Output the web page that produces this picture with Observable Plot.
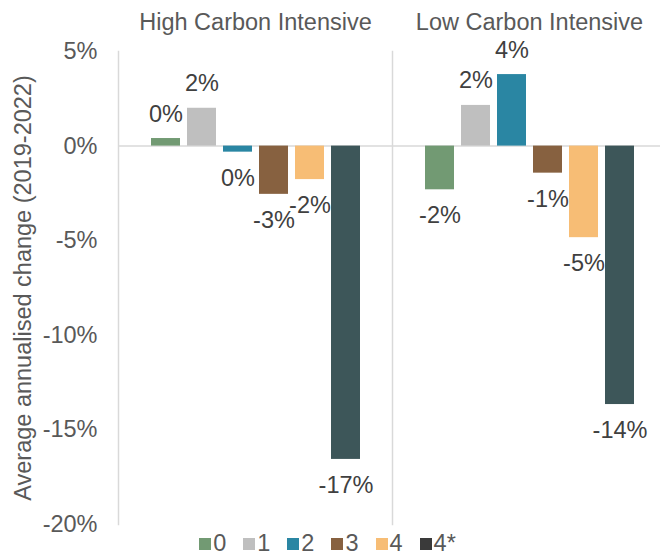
<!DOCTYPE html>
<html>
<head>
<meta charset="utf-8">
<script src="https://cdn.jsdelivr.net/npm/d3@7"></script>
<script src="https://cdn.jsdelivr.net/npm/@observablehq/plot@0.6"></script>
<style>
  html, body { margin: 0; padding: 0; background: #ffffff; overflow: hidden; }
  #chart { width: 660px; font-family: "Liberation Sans", Arial, sans-serif; }
  #chart svg { display: block; }
  .legend { position: relative; display: flex; justify-content: center; align-items: center; gap: 17px;
            height: 27px; margin-top: -8px; padding-right: 5px; font-size: 23.5px; color: #595959; line-height: 27px; }
  .legend .item { display: flex; align-items: center; }
  .legend .sw { width: 12px; height: 12px; margin-right: 2px; }
</style>
</head>
<body>
<div id="chart"></div>
<script>
// Sector groups, intensity bands and their average annualised change (%)
const categories = ["High Carbon Intensive", "Low Carbon Intensive"];
const series = ["0", "1", "2", "3", "4", "4*"];
const highCarbon = [0.4, 2.0, -0.32, -2.55, -1.77, -16.56];
const lowCarbon = [-2.31, 2.15, 3.78, -1.43, -4.84, -13.66];
const barColors = ["#729a73", "#bfbfbf", "#2a86a3", "#876140", "#f7bd75", "#3d5659"];
const legendColors = ["#729a73", "#bfbfbf", "#2a86a3", "#876140", "#f7bd75", "#3a3a3a"];
const yTicks = [5, 0, -5, -10, -15, -20];
const yLabel = "Average annualised change (2019-2022)";

const groups = [highCarbon, lowCarbon];
const rows = categories.flatMap((category, i) =>
  series.map((s, j) => ({category, series: s, value: groups[i][j]}))
);

const pct = (v) => `${Math.round(v)}%`;

const chart = Plot.plot({
  width: 660,
  height: 538,
  marginTop: 51,
  marginBottom: 14,
  marginLeft: 118,
  marginRight: -6,
  style: {
    fontFamily: '"Liberation Sans", Arial, sans-serif',
    fontSize: "23.5px",
    color: "#595959",
    background: "#ffffff"
  },
  fx: {domain: categories, padding: 0},
  x: {domain: series, paddingInner: 0.2, paddingOuter: 0.864, axis: null},
  y: {domain: [-20, 5]},
  color: {domain: series, range: barColors},
  marks: [
    Plot.frame({anchor: "left", stroke: "#d9d9d9", strokeWidth: 1.5}),
    Plot.ruleY([0], {stroke: "#d9d9d9", strokeWidth: 1.5}),
    Plot.barY(rows, {fx: "category", x: "series", y: "value", fill: "series"}),
    Plot.text(rows.filter((d) => d.value >= 0), {
      fx: "category", x: "series", y: "value", text: (d) => pct(d.value),
      lineAnchor: "bottom", dy: -17, fill: "#404040"
    }),
    Plot.text(rows.filter((d) => d.value < 0), {
      fx: "category", x: "series", y: "value", text: (d) => pct(d.value),
      lineAnchor: "top", dy: 17, fill: "#404040"
    }),
    Plot.axisFx({anchor: "top", label: null, tickSize: 0, tickPadding: 21.5}),
    Plot.axisY({
      ticks: yTicks,
      tickFormat: (d) => `${d}%`,
      tickSize: 0,
      tickPadding: 21,
      label: yLabel,
      labelAnchor: "center",
      labelArrow: "none",
      labelOffset: 104.5
    })
  ]
});

const root = document.getElementById("chart");
root.appendChild(chart);

// Legend for the intensity bands, below the plot
const legend = d3.select(root).append("div").attr("class", "legend");
series.forEach((s, i) => {
  const item = legend.append("div").attr("class", "item");
  item.append("div").attr("class", "sw").style("background", legendColors[i]);
  item.append("span").text(s);
});
</script>
</body>
</html>
